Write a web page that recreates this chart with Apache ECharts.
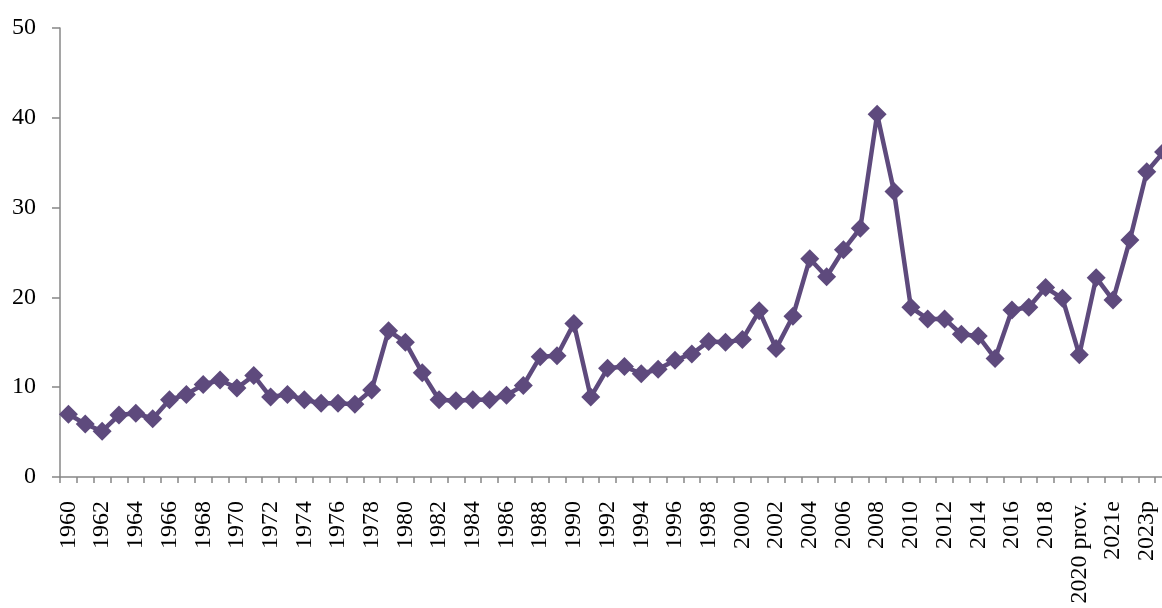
<!DOCTYPE html>
<html>
<head>
<meta charset="utf-8">
<script src="https://cdn.jsdelivr.net/npm/echarts@6/dist/echarts.min.js"></script>
<style>
  html, body { margin: 0; padding: 0; background: #fff; }
  #chart { width: 1162px; height: 608px; }
</style>
</head>
<body>
<div id="chart"></div>
<script>
// years 1960..2019, then the provisional / estimated / projected points
const years = [];
for (let y = 1960; y <= 2019; y++) years.push(String(y));
const tailYears = ['2020 prov.', '2021 prov.', '2021e', '2022e', '2023p', '2024p'];
const categories = years.concat(tailYears);

const values = [
  7.0, 5.9, 5.1, 6.9, 7.1, 6.5, 8.6, 9.2, 10.3, 10.8,
  9.9, 11.3, 8.9, 9.2, 8.6, 8.2, 8.2, 8.1, 9.7, 16.3,
  15.0, 11.6, 8.6, 8.5, 8.6, 8.6, 9.1, 10.2, 13.4, 13.5,
  17.1, 8.9, 12.1, 12.3, 11.5, 12.0, 13.0, 13.7, 15.1, 15.0,
  15.3, 18.5, 14.3, 17.9, 24.3, 22.3, 25.3, 27.7, 40.4, 31.8,
  18.9, 17.6, 17.6, 15.9, 15.7, 13.2, 18.6, 18.9, 21.1, 19.9,
  13.6, 22.2, 19.7, 26.4, 34.0, 36.2
];

const chart = echarts.init(document.getElementById('chart'));
chart.setOption({
  animation: false,
  backgroundColor: '#ffffff',
  grid: {
    left: 60, top: 28, right: -10, bottom: 131,
    containLabel: false,
    outerBoundsMode: 'none'
  },
  xAxis: {
    type: 'category',
    data: categories,
    boundaryGap: true,
    axisLine: { lineStyle: { color: '#878787', width: 1.5 } },
    axisTick: { show: true, interval: 0, length: 6, lineStyle: { color: '#878787', width: 1.5 } },
    axisLabel: {
      interval: 1,
      rotate: 90,
      margin: 24,
      color: '#000',
      fontFamily: 'Liberation Serif',
      fontSize: 24
    },
    splitLine: { show: false }
  },
  yAxis: {
    type: 'value',
    min: 0,
    max: 50,
    interval: 10,
    axisLine: { show: true, lineStyle: { color: '#878787', width: 1.5 } },
    axisTick: { show: true, length: 8, lineStyle: { color: '#878787', width: 1.5 } },
    axisLabel: {
      margin: 24,
      color: '#000',
      fontFamily: 'Liberation Serif',
      fontSize: 24
    },
    splitLine: { show: false }
  },
  series: [
    {
      name: 'value',
      type: 'line',
      data: values,
      symbol: 'diamond',
      symbolSize: 19,
      showAllSymbol: true,
      clip: false,
      itemStyle: { color: '#5e4a7d' },
      lineStyle: { color: '#5e4a7d', width: 4.5 }
    }
  ]
});
</script>
</body>
</html>
